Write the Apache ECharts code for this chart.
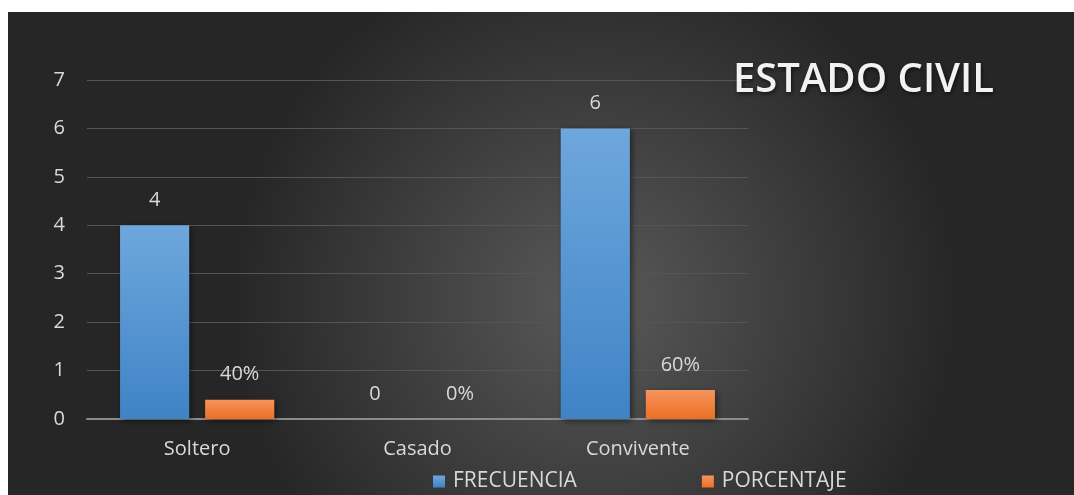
<!DOCTYPE html>
<html>
<head>
<meta charset="utf-8">
<script src="https://cdn.jsdelivr.net/npm/echarts@6/dist/echarts.min.js"></script>
<style>
  html, body { margin: 0; padding: 0; background: #fff; }
  #chart { position: absolute; left: 8px; top: 12px; width: 1066px; height: 483px; }
</style>
</head>
<body>
<div id="chart"></div>
<script>
var categorias = ['Soltero', 'Casado', 'Convivente'];
var frecuencia = [4, 0, 6];
var porcentaje = [0.4, 0, 0.6];
var yTicks = [0, 1, 2, 3, 4, 5, 6, 7];

var font = '"Open Sans", "Noto Sans", sans-serif';

function grad(top, bottom) {
    return new echarts.graphic.LinearGradient(0, 0, 0, 1, [
        { offset: 0, color: top },
        { offset: 1, color: bottom }
    ]);
}

var option = {
    backgroundColor: new echarts.graphic.RadialGradient(0.55, 0.6, 0.75, [
        { offset: 0, color: '#595959' },
        { offset: 1, color: '#262626' }
    ]),
    title: {
        text: 'ESTADO CIVIL',
        left: 720,
        top: 44,
        textStyle: {
            color: '#f2f2f2',
            fontFamily: font,
            fontWeight: 600,
            fontSize: 40,
            textShadowColor: 'rgba(0,0,0,0.6)',
            textShadowBlur: 4,
            textShadowOffsetX: 1,
            textShadowOffsetY: 2
        }
    },
    legend: {
        left: 425,
        top: 459,
        padding: 0,
        itemWidth: 12,
        itemHeight: 12,
        itemGap: 125,
        icon: 'rect',
        textStyle: { color: '#d9d9d9', fontFamily: font, fontSize: 21, padding: [0, 0, 0, 3] },
        data: ['FRECUENCIA', 'PORCENTAJE']
    },
    grid: { left: 79, right: 326, top: 68, bottom: 76 },
    xAxis: {
        type: 'category',
        data: categorias,
        axisLine: { lineStyle: { color: '#8c8c8c', width: 2 } },
        axisTick: { show: false },
        axisLabel: { color: '#d9d9d9', fontFamily: font, fontSize: 20, margin: 20 }
    },
    yAxis: {
        type: 'value',
        min: yTicks[0],
        max: yTicks[yTicks.length - 1],
        interval: 1,
        axisLine: { show: false },
        axisTick: { show: false },
        axisLabel: { color: '#d9d9d9', fontFamily: font, fontSize: 20, margin: 22 },
        splitLine: { lineStyle: { color: '#555555', width: 1 } }
    },
    series: [
        {
            name: 'FRECUENCIA',
            type: 'bar',
            data: frecuencia,
            barCategoryGap: '30%',
            barGap: '23%',
            itemStyle: {
                color: grad('#6ea7dd', '#3f83c6'),
                shadowColor: 'rgba(0,0,0,0.5)',
                shadowBlur: 6,
                shadowOffsetX: 2,
                shadowOffsetY: 2
            },
            label: {
                show: true,
                position: 'top',
                distance: 15,
                color: '#d9d9d9',
                fontFamily: font,
                fontSize: 20
            }
        },
        {
            name: 'PORCENTAJE',
            type: 'bar',
            data: porcentaje,
            itemStyle: {
                color: grad('#f5955e', '#ec6f22'),
                shadowColor: 'rgba(0,0,0,0.5)',
                shadowBlur: 6,
                shadowOffsetX: 2,
                shadowOffsetY: 2
            },
            label: {
                show: true,
                position: 'top',
                distance: 15,
                color: '#d9d9d9',
                fontFamily: font,
                fontSize: 20,
                formatter: function (p) { return Math.round(p.value * 100) + '%'; }
            }
        }
    ]
};

var chart = echarts.init(document.getElementById('chart'));
chart.setOption(option);
</script>
</body>
</html>
